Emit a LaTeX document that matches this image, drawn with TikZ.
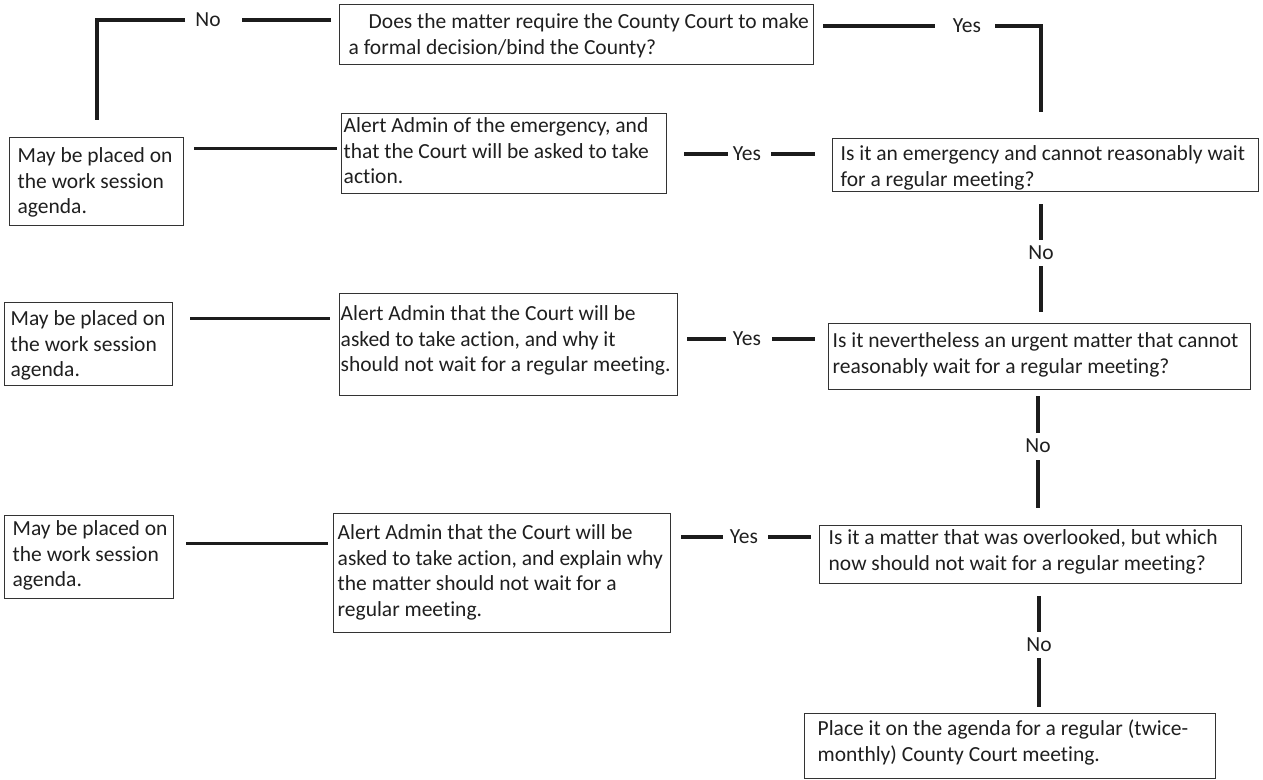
\documentclass[tikz,border=0pt]{standalone}
\usepackage{fontspec}
\setmainfont{Carlito}[Ligatures=NoCommon]
\definecolor{ink}{HTML}{1F1F1F}
\definecolor{linec}{HTML}{1C1C1C}
\definecolor{boxc}{HTML}{333333}
\tikzset{
  box/.style={draw=boxc, line width=1.4pt, inner sep=0pt, anchor=north west, text=ink},
  conn/.style={draw=linec, line width=3.8pt},
  lbl/.style={text=ink, inner sep=0pt}
}
\newcommand\fbx[7]{%
  \node[box, minimum width=#3pt, minimum height=#4pt] (#1) at (#2)
    {\parbox[t][#4pt][t]{#3pt}{\raggedright\leftskip=#5pt\rule{0pt}{#6pt}#7}};}
\begin{document}
\begin{tikzpicture}[x=1pt,y=-1pt,font=\fontsize{21.5}{25.5}\selectfont]
\useasboundingbox[fill=white] (0,0) rectangle (1263,779);

% boxes
\fbx{q1}{339,4}{474}{60}{9}{24}{\hspace*{20pt}Does the matter require the County Court to make\\a formal decision/bind the County?}
\fbx{l1}{9,137}{174}{88}{8}{25}{May be placed on\\the work session\\agenda.}
\fbx{a1}{341,113}{325}{80}{2}{19}{Alert Admin of the emergency, and\\that the Court will be asked to take\\action.}
\fbx{q2}{832,138}{426}{53}{8}{22}{Is it an emergency and cannot reasonably wait\\for a regular meeting?}
\fbx{l2}{4,302}{168}{83}{6}{23}{May be placed on\\the work session\\agenda.}
\fbx{a2}{339,293}{338}{102}{1}{27}{Alert Admin that the Court will be\\asked to take action, and why it\\should not wait for a regular meeting.}
\fbx{q3}{828,323}{422}{66}{4}{24}{Is it nevertheless an urgent matter that cannot\\reasonably wait for a regular meeting?}
\fbx{l3}{4,515}{169}{83}{8}{20}{May be placed on\\the work session\\agenda.}
\fbx{a3}{333,513}{337}{119}{4}{26}{Alert Admin that the Court will be\\asked to take action, and explain why\\the matter should not wait for a\\regular meeting.}
\fbx{q4}{819,525}{422}{58}{9}{19}{Is it a matter that was overlooked, but which\\now should not wait for a regular meeting?}
\fbx{p}{804,713}{411}{65}{13}{22}{Place it on the agenda for a regular (twice-\\monthly) County Court meeting.}

% labels
\node[lbl] (noT)  at (208,20)  {No};
\node[lbl] (yesT) at (967,26)  {Yes};
\node[lbl] (yes1) at (747,154) {Yes};
\node[lbl] (no1)  at (1041,253) {No};
\node[lbl] (yes2) at (747,339) {Yes};
\node[lbl] (no2)  at (1038,446) {No};
\node[lbl] (yes3) at (744,537) {Yes};
\node[lbl] (no3)  at (1039,645) {No};

% top connectors
\draw[conn, shorten <=8pt, shorten >=21pt] (q1.west |- noT) -- (noT.east);
\draw[conn, shorten <=10pt, shorten >=17pt] (noT.west) -- (noT -| l1) -- (l1.north);
\draw[conn, shorten <=9pt, shorten >=18pt] (q1.east |- yesT) -- (yesT.west);
\draw[conn, shorten <=14pt, shorten >=26pt] (yesT.east) -- (no1 |- yesT) -- (no1 |- q2.north);

% right column verticals
\draw[conn, shorten <=12pt, shorten >=6pt] (no1 |- q2.south) -- (no1.north);
\draw[conn, shorten <=6pt, shorten >=11pt] (no1.south) -- (no1 |- q3.north);
\draw[conn, shorten <=6pt, shorten >=6pt] (no2 |- q3.south) -- (no2.north);
\draw[conn, shorten <=7pt, shorten >=17pt] (no2.south) -- (no2 |- q4.north);
\draw[conn, shorten <=12pt, shorten >=6pt] (no3 |- q4.south) -- (no3.north);
\draw[conn, shorten <=6pt, shorten >=6pt] (no3.south) -- (no3 |- p.north);

% yes rows
\draw[conn, shorten <=17pt, shorten >=5pt] (a1.east |- yes1) -- (yes1.west);
\draw[conn, shorten <=10pt, shorten >=17pt] (yes1.east) -- (q2.west |- yes1);
\draw[conn, shorten <=9pt, shorten >=7pt] (a2.east |- yes2) -- (yes2.west);
\draw[conn, shorten <=11pt, shorten >=13pt] (yes2.east) -- (q3.west |- yes2);
\draw[conn, shorten <=10pt, shorten >=7pt] (a3.east |- yes3) -- (yes3.west);
\draw[conn, shorten <=10pt, shorten >=8pt] (yes3.east) -- (q4.west |- yes3);

% left links
\path ([yshift=5pt]a1.west) coordinate (a1in);
\path ([yshift=26pt]a2.west) coordinate (a2in);
\path ([yshift=29.5pt]a3.west) coordinate (a3in);
\draw[conn, line width=3.2pt, shorten <=10pt, shorten >=4pt] (l1.east |- a1in) -- (a1in);
\draw[conn, line width=3.2pt, shorten <=17pt, shorten >=9pt] (l2.east |- a2in) -- (a2in);
\draw[conn, line width=3.2pt, shorten <=12pt, shorten >=5pt] (l3.east |- a3in) -- (a3in);
\end{tikzpicture}
\end{document}
